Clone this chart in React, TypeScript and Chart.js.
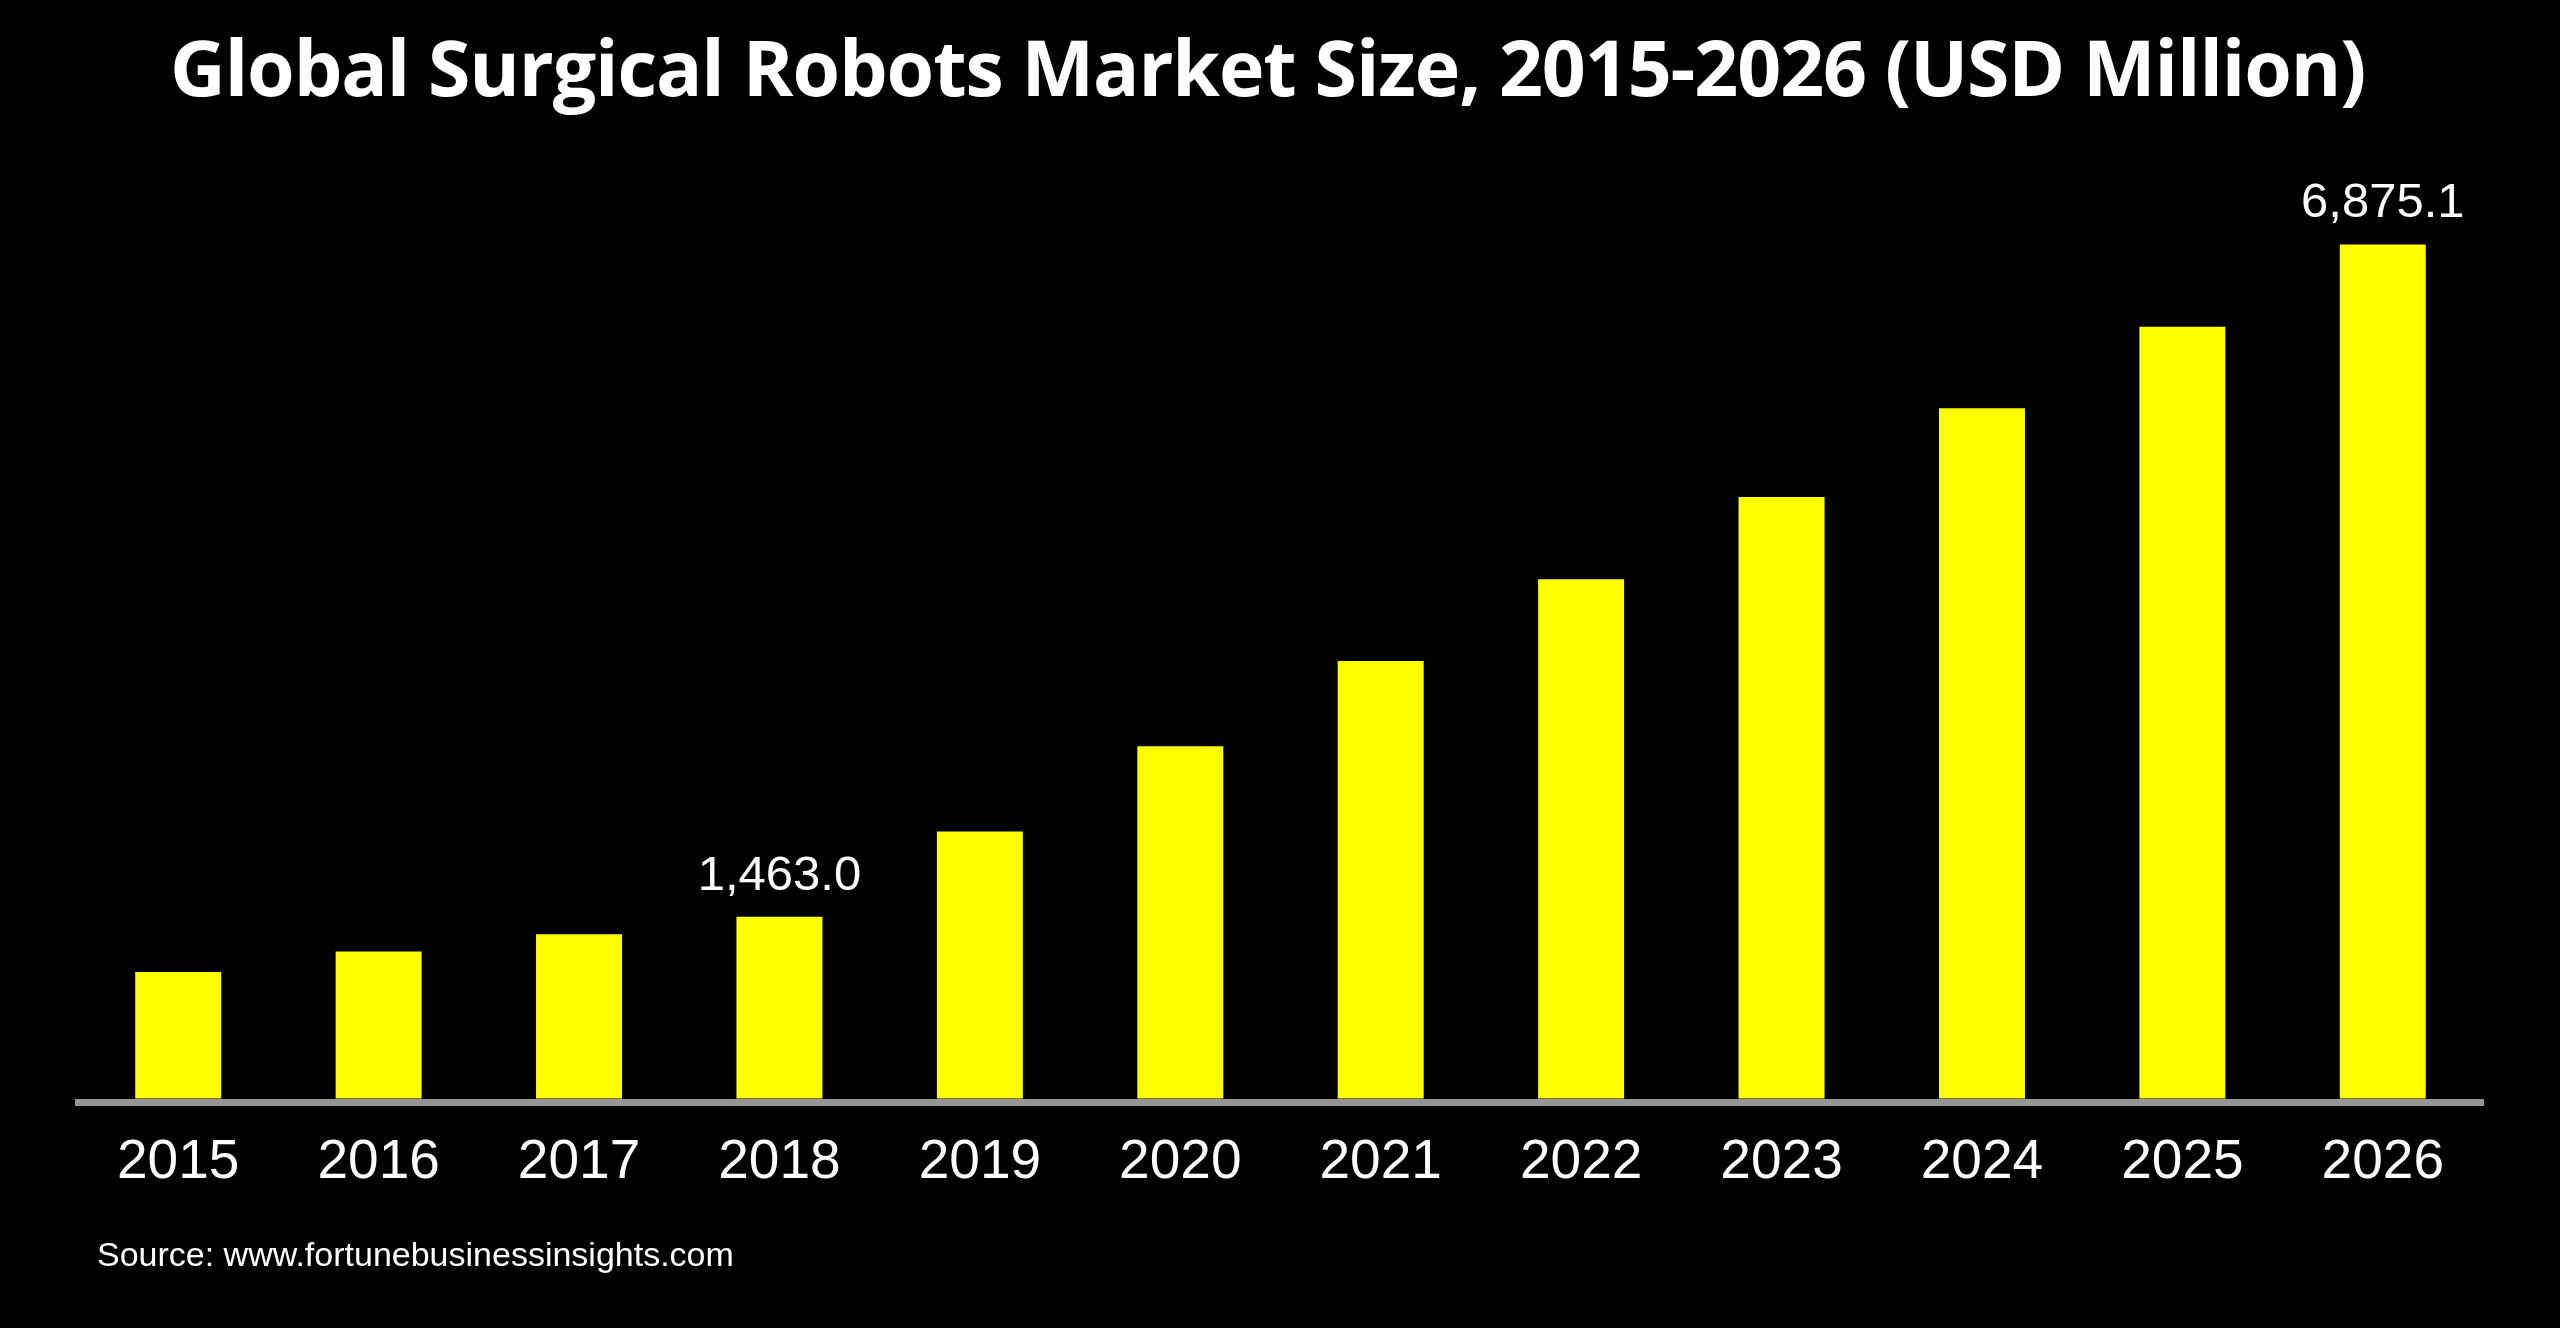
import React, { useEffect, useRef } from "react";
import { Chart, registerables } from "chart.js";

Chart.register(...registerables);

const years = ["2015", "2016", "2017", "2018", "2019", "2020", "2021", "2022", "2023", "2024", "2025", "2026"];
const marketSize = [1019, 1184, 1322, 1463.0, 2150, 2835, 3522, 4180, 4842, 5556, 6213, 6875.1];
const labeledYears = ["2018", "2026"];

const titleText = "Global Surgical Robots Market Size, 2015-2026 (USD Million)";
const sourceText = "Source: www.fortunebusinessinsights.com";

const ARIAL = '"Liberation Sans", Arial, Helvetica, sans-serif';

const valueLabelPlugin = {
  id: "valueLabels",
  afterDatasetsDraw(chart: any) {
    const meta = chart.getDatasetMeta(0);
    const ctx = chart.ctx;
    ctx.save();
    ctx.font = `49px ${ARIAL}`;
    ctx.fillStyle = "#ffffff";
    ctx.textAlign = "center";
    ctx.textBaseline = "alphabetic";
    years.forEach((y, i) => {
      if (!labeledYears.includes(y)) return;
      const el = meta.data[i];
      const txt = marketSize[i].toLocaleString("en-US", { minimumFractionDigits: 1, maximumFractionDigits: 1 });
      ctx.fillText(txt, el.x, el.y - 27);
    });
    ctx.restore();
  },
};

export default function App() {
  const canvasRef = useRef<HTMLCanvasElement | null>(null);

  useEffect(() => {
    if (!canvasRef.current) return;
    const chart = new Chart(canvasRef.current, {
      type: "bar",
      data: {
        labels: years,
        datasets: [
          {
            data: marketSize,
            backgroundColor: "#FFFF00",
            borderWidth: 0,
            barPercentage: 0.429,
            categoryPercentage: 1,
          },
        ],
      },
      options: {
        animation: false,
        responsive: true,
        maintainAspectRatio: false,
        devicePixelRatio: 1,
        layout: { padding: { top: 154.4, left: 78, right: 77, bottom: 104 } },
        plugins: {
          legend: { display: false },
          title: { display: false },
          tooltip: { enabled: false },
        },
        scales: {
          x: {
            grid: { display: false, drawTicks: false },
            border: { display: true, color: "#969696", width: 7, z: 1 },
            ticks: {
              color: "#ffffff",
              padding: 28,
              font: { family: ARIAL, size: 55 },
              maxRotation: 0,
              autoSkip: false,
            },
          },
          y: {
            display: false,
            min: -28.2,
            max: 7600,
          },
        },
      },
      plugins: [valueLabelPlugin],
    });
    return () => chart.destroy();
  }, []);

  return (
    <div
      style={{
        position: "fixed",
        top: 0,
        left: 0,
        width: "2560px",
        height: "1328px",
        background: "#000000",
        overflow: "hidden",
      }}
    >
      <div
        style={{
          position: "absolute",
          left: "170px",
          top: "27.5px",
          fontFamily: '"Open Sans", sans-serif',
          fontWeight: 700,
          fontSize: "77px",
          letterSpacing: "-1.1px",
          lineHeight: 1,
          color: "#ffffff",
          whiteSpace: "nowrap",
        }}
      >
        {titleText}
      </div>
      <div style={{ position: "absolute", inset: 0 }}>
        <canvas ref={canvasRef} />
      </div>
      <div
        style={{
          position: "absolute",
          left: "97px",
          top: "1237px",
          fontFamily: ARIAL,
          fontSize: "34px",
          lineHeight: 1,
          color: "#ffffff",
          whiteSpace: "nowrap",
        }}
      >
        {sourceText}
      </div>
    </div>
  );
}
